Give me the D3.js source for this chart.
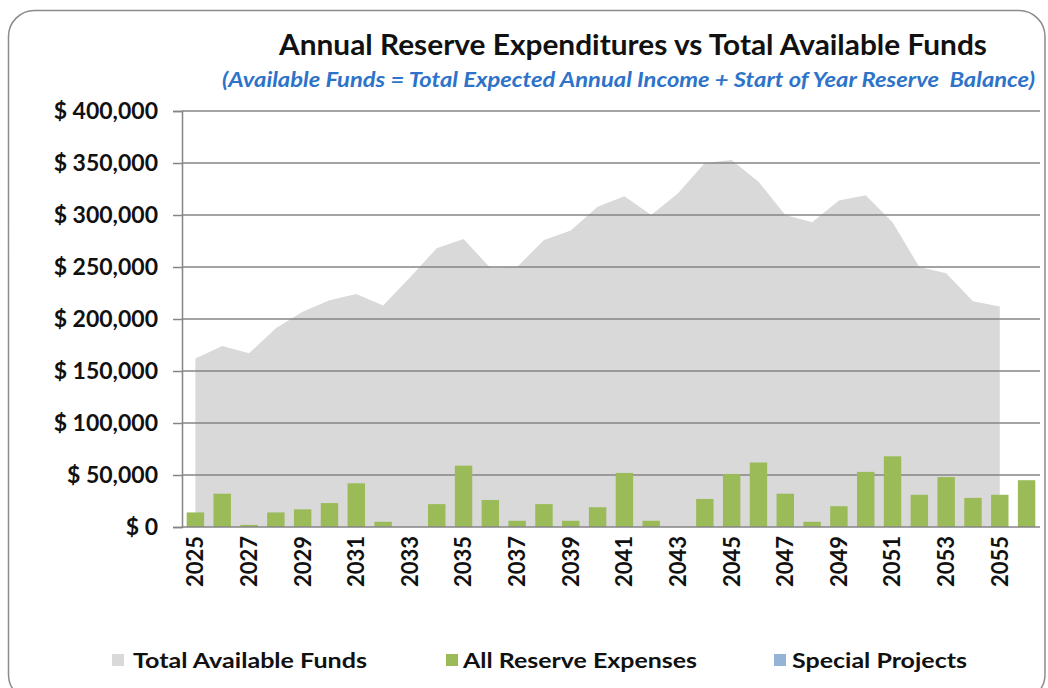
<!DOCTYPE html>
<html>
<head>
<meta charset="utf-8">
<script src="https://cdn.jsdelivr.net/npm/d3@7"></script>
<style>
  html, body { margin: 0; padding: 0; background: #ffffff; }
  svg { display: block; }
  text { font-family: Lato, "Open Sans", sans-serif; }
</style>
</head>
<body>
<svg id="chart" width="1048" height="688"></svg>
<script>
// Fiscal years on the category axis
const years = [2025, 2026, 2027, 2028, 2029, 2030, 2031, 2032, 2033, 2034, 2035,
               2036, 2037, 2038, 2039, 2040, 2041, 2042, 2043, 2044, 2045, 2046,
               2047, 2048, 2049, 2050, 2051, 2052, 2053, 2054, 2055, 2056];

// Total available funds (income + start-of-year reserve balance); no figure for 2056
const totalAvailableFunds = [162000, 174000, 167000, 191000, 207000, 218000, 224000,
                             213000, 240000, 268000, 277000, 249000, 250000, 276000,
                             285000, 308000, 318000, 300000, 321000, 350000, 353000,
                             332000, 300000, 293000, 314000, 319000, 293000, 250000,
                             244000, 217000, 212000, null];

// All reserve expenses per year
const reserveExpenses = [14000, 32000, 2000, 14000, 17000, 23000, 42000, 5000, 0,
                         22000, 59000, 26000, 6000, 22000, 6000, 19000, 52000, 6000,
                         0, 27000, 51000, 62000, 32000, 5000, 20000, 53000, 68000,
                         31000, 48000, 28000, 31000, 45000];

// Special projects (none scheduled)
const specialProjects = years.map(() => 0);

const yTicks = [0, 50000, 100000, 150000, 200000, 250000, 300000, 350000, 400000];
const xTickYears = years.filter(y => y % 2 === 1);

const seriesNames = ["Total Available Funds", "All Reserve Expenses", "Special Projects"];
const seriesColors = ["#d9d9d9", "#9bbb59", "#95b3d7"];

const svg = d3.select("#chart");

// Rounded chart frame
svg.append("rect")
  .attr("x", 8.5).attr("y", 10.5)
  .attr("width", 1048 - 8.5 - 3).attr("height", 690)
  .attr("rx", 26).attr("ry", 26)
  .attr("fill", "#ffffff")
  .attr("stroke", "#8c8c8c")
  .attr("stroke-width", 1.5);

const plot = { left: 182, right: 1040, top: 111, bottom: 527 };

const x = d3.scaleBand()
  .domain(years)
  .range([plot.left, plot.right])
  .paddingInner(0.35)
  .paddingOuter(0.175);

const y = d3.scaleLinear()
  .domain([0, 400000])
  .range([plot.bottom, plot.top]);

const cx = d => x(d) + x.bandwidth() / 2;

// Area: total available funds
const fundsData = years.map((yr, i) => ({ year: yr, value: totalAvailableFunds[i] }));
const area = d3.area()
  .defined(d => d.value != null)
  .x(d => cx(d.year))
  .y0(y(0))
  .y1(d => y(d.value));

svg.append("path")
  .datum(fundsData)
  .attr("d", area)
  .attr("fill", seriesColors[0]);

// Horizontal gridlines
svg.append("g")
  .selectAll("line")
  .data(yTicks.filter(t => t > 0))
  .join("line")
  .attr("x1", plot.left).attr("x2", plot.right)
  .attr("y1", d => y(d)).attr("y2", d => y(d))
  .attr("stroke", "#858585")
  .attr("stroke-width", 1.5);

// Bars: all reserve expenses
svg.append("g")
  .selectAll("rect")
  .data(years.map((yr, i) => ({ year: yr, value: reserveExpenses[i] })).filter(d => d.value > 0))
  .join("rect")
  .attr("x", d => x(d.year))
  .attr("width", x.bandwidth())
  .attr("y", d => y(d.value))
  .attr("height", d => y(0) - y(d.value))
  .attr("fill", seriesColors[1]);

// Bars: special projects, stacked above reserve expenses
svg.append("g")
  .selectAll("rect")
  .data(years.map((yr, i) => ({ year: yr, base: reserveExpenses[i], value: specialProjects[i] })).filter(d => d.value > 0))
  .join("rect")
  .attr("x", d => x(d.year))
  .attr("width", x.bandwidth())
  .attr("y", d => y(d.base + d.value))
  .attr("height", d => y(d.base) - y(d.base + d.value))
  .attr("fill", seriesColors[2]);

// Y axis
const yAxis = d3.axisLeft(y)
  .tickValues(yTicks)
  .tickSize(9)
  .tickPadding(15)
  .tickFormat(d => "$ " + d3.format(",")(d));

const yg = svg.append("g")
  .attr("transform", `translate(${plot.left},0)`)
  .call(yAxis);
yg.select(".domain").attr("stroke", "#858585").attr("stroke-width", 1.5);
yg.selectAll(".tick line").attr("stroke", "#858585").attr("stroke-width", 1.5);
yg.selectAll(".tick text")
  .attr("fill", "#111111")
  .style("font-size", "23px")
  .style("font-weight", "700");

// X axis baseline
svg.append("line")
  .attr("x1", plot.left).attr("x2", plot.right)
  .attr("y1", y(0)).attr("y2", y(0))
  .attr("stroke", "#858585")
  .attr("stroke-width", 1.5);

// X axis labels, rotated
const xg = svg.append("g")
  .attr("transform", `translate(0,${plot.bottom})`)
  .call(d3.axisBottom(x).tickValues(xTickYears).tickSize(0).tickFormat(d3.format("d")));
xg.select(".domain").remove();
xg.selectAll(".tick text")
  .attr("transform", "translate(0,9) rotate(-90)")
  .attr("x", 0).attr("y", 0)
  .attr("dy", "0.36em")
  .attr("text-anchor", "end")
  .attr("fill", "#111111")
  .style("font-size", "22px")
  .style("font-weight", "700");

// Title and subtitle
svg.append("text")
  .attr("x", 279).attr("y", 55)
  .attr("textLength", 708)
  .attr("lengthAdjust", "spacingAndGlyphs")
  .attr("fill", "#111111")
  .style("font-size", "28px")
  .style("font-weight", "700")
  .text("Annual Reserve Expenditures vs Total Available Funds");

svg.append("text")
  .attr("x", 222).attr("y", 87)
  .attr("textLength", 813)
  .attr("lengthAdjust", "spacingAndGlyphs")
  .attr("fill", "#2d73c9")
  .style("font-size", "21px")
  .style("font-weight", "700")
  .style("font-style", "italic")
  .style("white-space", "pre")
  .text("(Available Funds = Total Expected Annual Income + Start of Year Reserve  Balance)");

// Legend
const legendItems = [
  { name: seriesNames[0], color: seriesColors[0], sx: 112, tx: 133, tw: 234 },
  { name: seriesNames[1], color: seriesColors[1], sx: 446, tx: 463, tw: 234 },
  { name: seriesNames[2], color: seriesColors[2], sx: 774, tx: 792, tw: 175 }
];
const lg = svg.append("g");
lg.selectAll("rect")
  .data(legendItems)
  .join("rect")
  .attr("x", d => d.sx).attr("y", 654)
  .attr("width", 12).attr("height", 12)
  .attr("fill", d => d.color);
lg.selectAll("text")
  .data(legendItems)
  .join("text")
  .attr("x", d => d.tx).attr("y", 668)
  .attr("textLength", d => d.tw)
  .attr("lengthAdjust", "spacingAndGlyphs")
  .attr("fill", "#111111")
  .style("font-size", "21px")
  .style("font-weight", "700")
  .text(d => d.name);
</script>
</body>
</html>
